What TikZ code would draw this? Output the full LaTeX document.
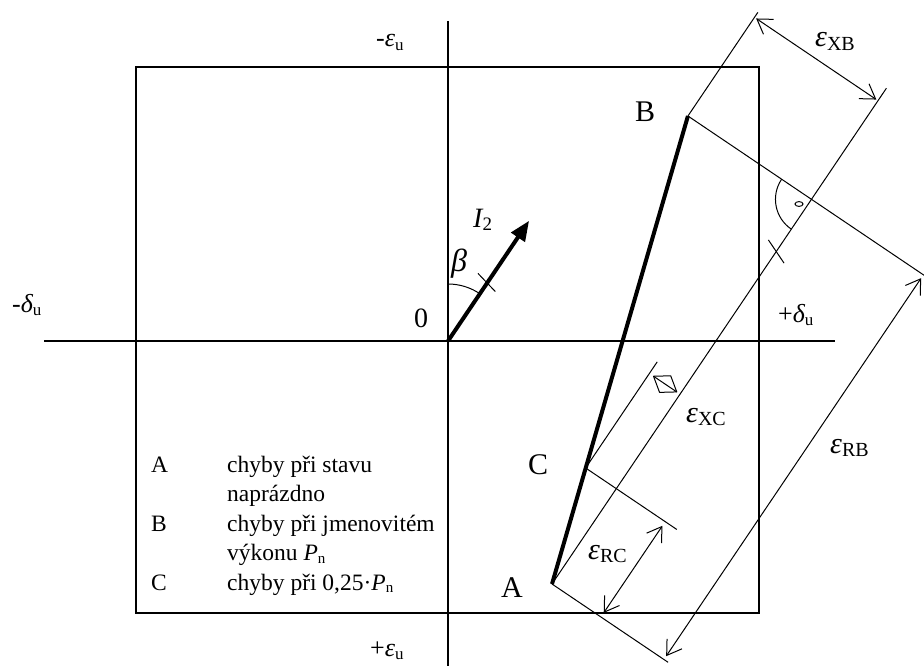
\documentclass[tikz,border=0pt]{standalone}
\usepackage{fontspec}
\setmainfont{Liberation Serif}
\usetikzlibrary{arrows.meta,calc}
\newcommand\subs[2]{\raisebox{-0.12em}{\fontsize{#1}{#1}\selectfont\upshape #2}}
\begin{document}
\begin{tikzpicture}[x=1pt,y=-1pt,
  thinl/.style={line width=1pt},
  axisl/.style={line width=2pt},
  thickl/.style={line width=4pt},
  dimarrow/.style={thinl,{Straight Barb[length=14pt,width=18pt]}-{Straight Barb[length=14pt,width=18pt]}},
  axlbl/.style={inner sep=0pt,anchor=base west,font=\fontsize{26}{26}\selectfont},
  epslbl/.style={inner sep=0pt,anchor=base west,font=\fontsize{30}{30}\selectfont},
  ptlbl/.style={inner sep=0pt,anchor=base west,font=\fontsize{30}{30}\selectfont},
  leglbl/.style={inner sep=0pt,anchor=base west,font=\fontsize{23.5}{23.5}\selectfont}]
\useasboundingbox (0,0) rectangle (924,666);

% frame and axes
\coordinate (box1) at (136,67);
\coordinate (box2) at (759,613);
\draw[axisl] (box1) rectangle (box2);
\coordinate (hl) at (44,341);
\coordinate (hr) at (835,341);
\coordinate (vt) at (448,21);
\coordinate (vb) at (448,666);
\coordinate (O) at (448,341);
\draw[axisl] (hl) -- (hr);
\draw[axisl] (vt) -- (vb);

% axis labels
\node[axlbl] (epsneg) at (376,47) {-{\itshape ε}\subs{17}{u}};
\node[axlbl] (epspos) at (370,656) {+{\itshape ε}\subs{17}{u}};
\node[axlbl] (delneg) at (12,312) {-{\itshape δ}\subs{17}{u}};
\node[axlbl] (delpos) at (778,322) {+{\itshape δ}\subs{17}{u}};
\node[axlbl,font=\fontsize{28}{28}\selectfont] (zero) at (414,327) {0};

% current vector I2
\coordinate (I2tip) at ($(O)+(81.08,-120.21)$);
\draw[thickl,-{Triangle[length=20pt,width=16pt]}] (O) -- (I2tip);
\coordinate (tk1a) at ($(O)+(39.14,-58.03)+(-9.2,-9.6)$);
\coordinate (tk1b) at ($(O)+(39.14,-58.03)+(8.2,8.6)$);
\draw[thinl] (tk1a) -- (tk1b);
\coordinate (betas) at (448,284);
\draw[thinl] (betas) arc[start angle=270, end angle=304, radius=57];
\node[axlbl,font=\fontsize{32}{32}\selectfont] (beta) at (451,271) {\itshape β};
\node[axlbl,font=\fontsize{28}{28}\selectfont] (I2) at (473,227) {{\itshape I}\subs{19}{2}};

% local frame: s along I2 direction, t perpendicular (down-right), origin at A
\begin{scope}[shift={(552,584)},rotate=56]
  \coordinate (A) at (0,0);
  \coordinate (B) at (464,-149);
  \coordinate (C) at (115,-37);
  \coordinate (F) at (464,0);
  \coordinate (Atop) at (598,0);
  \coordinate (Btop) at (589,-149);
  \coordinate (Bv) at (464,137);
  \coordinate (Av) at (0,140);
  \coordinate (Ctop) at (243,-37);
  \coordinate (Cv) at (115,73);
  \coordinate (tkc) at (401,0);
  \coordinate (ras) at (464,-36);
  \coordinate (xb1) at (583,-147);
  \coordinate (xb2) at (583,-2);
  \coordinate (rb1) at (460,135);
  \coordinate (rb2) at (4,135);
  \coordinate (rc1) at (110,59);
  \coordinate (rc2) at (5,59);
  \coordinate (xc1) at (229,-32);
  \coordinate (xc2) at (229,-4);
  \coordinate (xcm1) at (239,-18);
  \coordinate (xcm2) at (219,-18);
\end{scope}

\draw[thickl] (A) -- (B);
\node[ptlbl] (Alab) at (501,597) {A};
\node[ptlbl] (Blab) at (635,122) {B};
\node[ptlbl] (Clab) at (528,474) {C};

% construction lines
\draw[thinl] (A) -- (Atop);
\draw[thinl] (B) -- (Btop);
\draw[thinl] (B) -- (Bv);
\draw[thinl] (A) -- (Av);
\draw[thinl] (C) -- (Ctop);
\draw[thinl] (C) -- (Cv);

% tick on A line (parallel to I2)
\coordinate (tk2a) at ($(tkc)+(-7.83,-11.61)$);
\coordinate (tk2b) at ($(tkc)+(7.83,11.61)$);
\draw[thinl] (tk2a) -- (tk2b);

% right angle at F
\draw[thinl] (ras) arc[start angle=214, end angle=124, radius=36];
\coordinate (dot) at (799,204);
\draw[thinl] (dot) ellipse[x radius=4, y radius=2.4];

% dimension arrows
\draw[dimarrow] (xb1) -- (xb2);
\draw[dimarrow] (rb1) -- (rb2);
\draw[dimarrow] (rc1) -- (rc2);
\draw[thinl,line join=round] (xc1) -- (xcm1) -- (xc2) -- (xcm2) -- cycle;
\draw[thinl] (xc1) -- (xc2);

\node[epslbl] (eXB) at (815,47) {{\itshape ε}\subs{20}{XB}};
\node[epslbl] (eRB) at (830,453) {{\itshape ε}\subs{20}{RB}};
\node[epslbl] (eXC) at (686,422) {{\itshape ε}\subs{20}{XC}};
\node[epslbl] (eRC) at (588,559) {{\itshape ε}\subs{20}{RC}};

% legend
\node[leglbl] (lA) at (151,472) {A};
\node[leglbl] (lA1) at (227,472) {chyby při stavu};
\node[leglbl] (lA2) at (227,501.5) {naprázdno};
\node[leglbl] (lB) at (151,531) {B};
\node[leglbl] (lB1) at (227,531) {chyby při jmenovitém};
\node[leglbl] (lB2) at (227,560.5) {výkonu {\itshape P}\subs{15}{n}};
\node[leglbl] (lC) at (151,590) {C};
\node[leglbl] (lC1) at (227,590) {chyby při 0,25·{\itshape P}\subs{15}{n}};
\end{tikzpicture}
\end{document}
